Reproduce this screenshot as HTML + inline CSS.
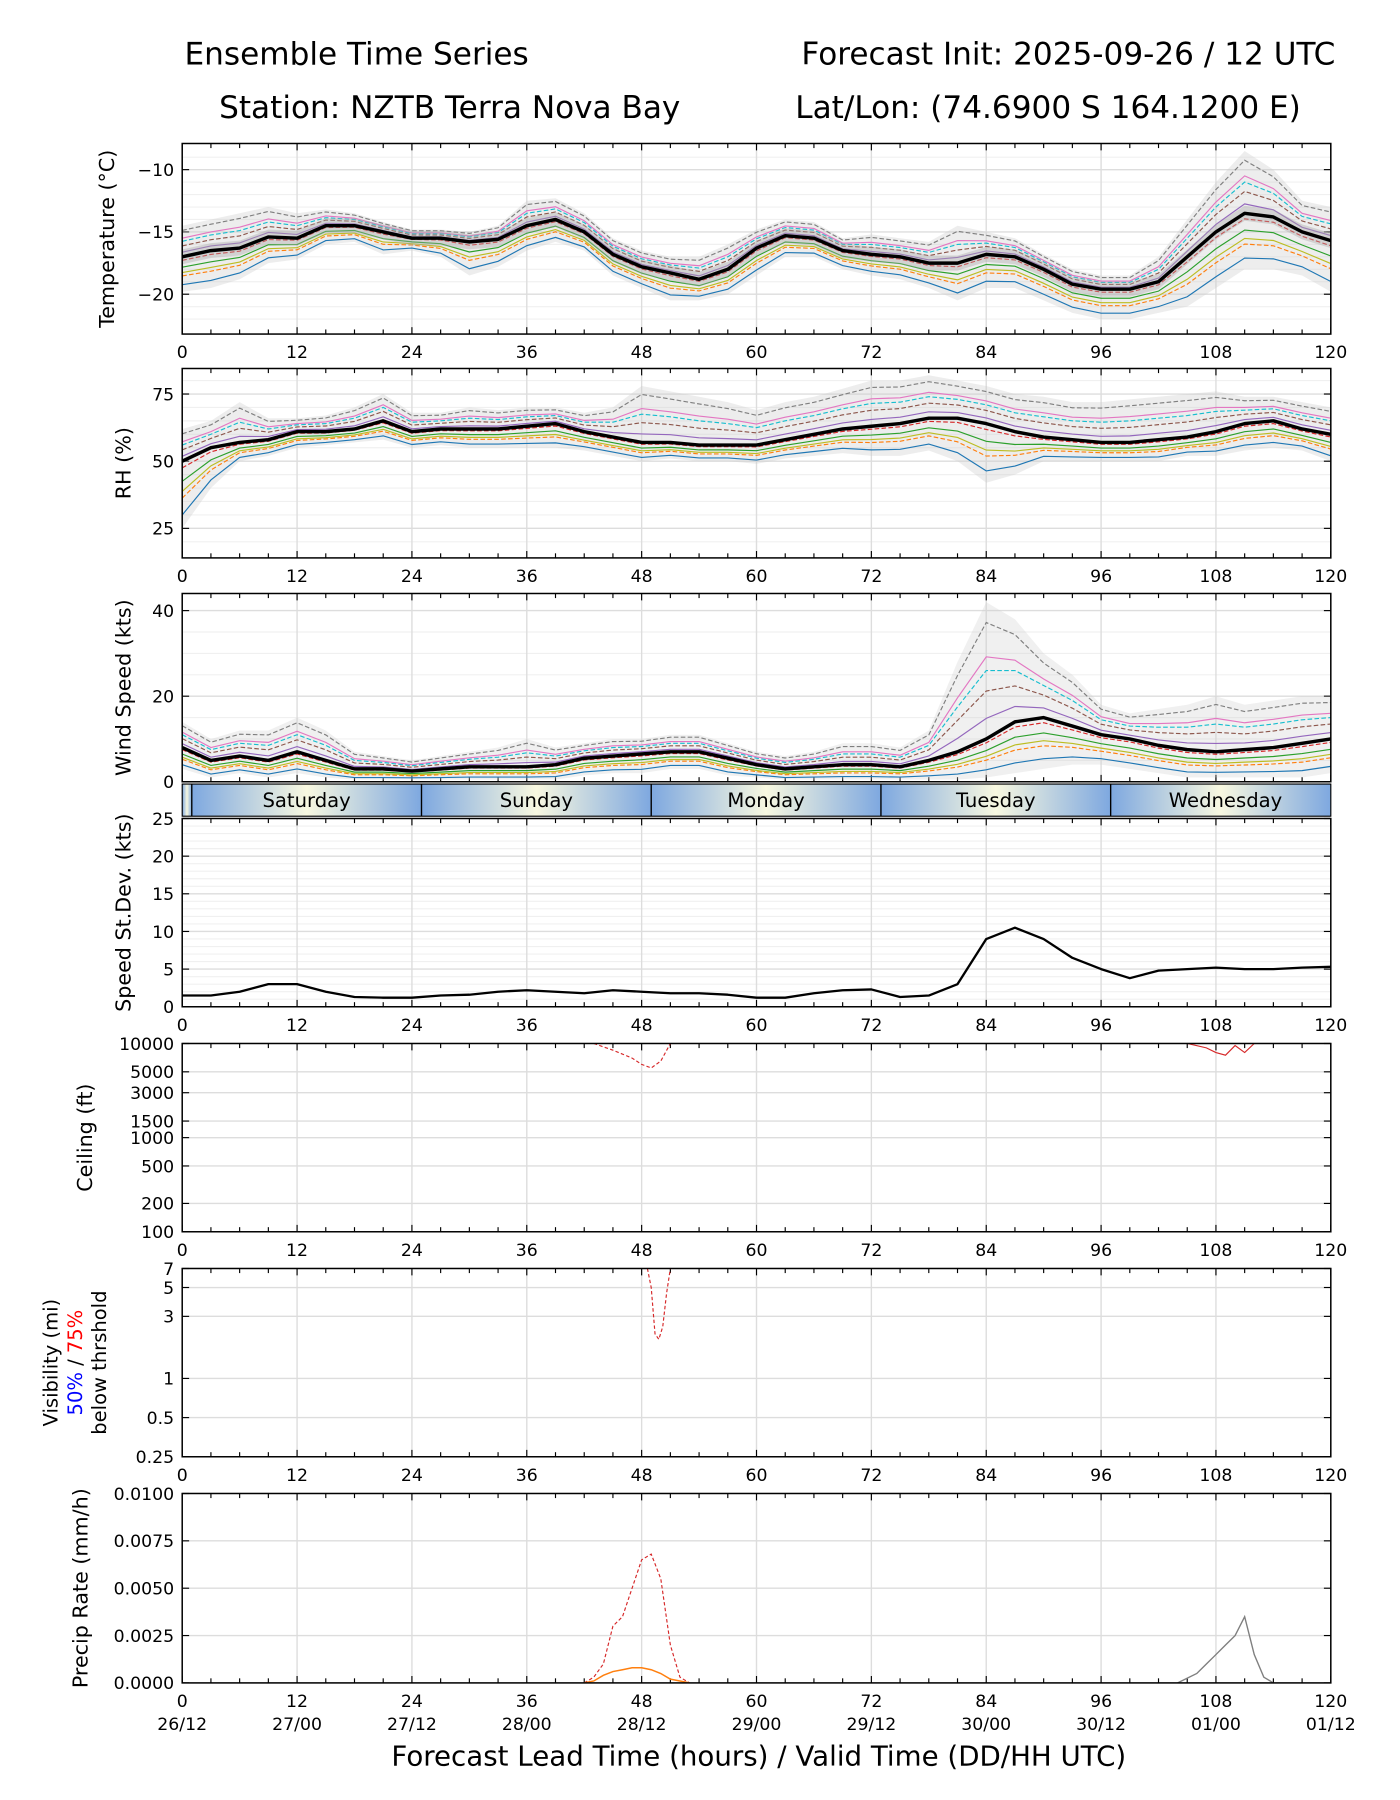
<!DOCTYPE html>
<html><head><meta charset="utf-8">
<style>
html,body{margin:0;padding:0;background:#fff;}
svg{display:block;font-family:"DejaVu Sans","Liberation Sans",sans-serif;}
</style></head>
<body>
<svg id="chart" width="1400" height="1800" viewBox="0 0 1214 1568" preserveAspectRatio="none" xmlns="http://www.w3.org/2000/svg">
<g font-size="27" fill="#000">
<text x="160" y="56">Ensemble Time Series</text>
<text x="1158" y="56" text-anchor="end">Forecast Init: 2025-09-26 / 12 UTC</text>
<text x="190" y="103">Station: NZTB Terra Nova Bay</text>
<text x="1128" y="103" text-anchor="end">Lat/Lon: (74.6900 S 164.1200 E)</text>
</g>
<defs>
<linearGradient id="dayg" x1="0" x2="1" y1="0" y2="0">
<stop offset="0" stop-color="#7ea8e0"/><stop offset="0.5" stop-color="#f8f8e0"/><stop offset="1" stop-color="#7ea8e0"/>
</linearGradient>
</defs>
<g id="root"></g>
</svg>
<script>
// ---------- data ----------
const hours3 = [0,3,6,9,12,15,18,21,24,27,30,33,36,39,42,45,48,51,54,57,60,63,66,69,72,75,78,81,84,87,90,93,96,99,102,105,108,111,114,117,120];
const tempMean = [-17,-16.5,-16.3,-15.4,-15.5,-14.5,-14.5,-15.0,-15.5,-15.5,-15.8,-15.6,-14.5,-14.0,-15.0,-16.8,-17.8,-18.3,-18.8,-18.0,-16.3,-15.3,-15.5,-16.5,-16.8,-17.0,-17.5,-17.5,-16.8,-17.0,-18.0,-19.2,-19.6,-19.6,-19.0,-17.0,-15.0,-13.5,-13.8,-15.0,-15.7];
const tempHi = [-14.5,-14,-13.5,-13,-13.5,-13.2,-13.5,-14.2,-14.8,-14.8,-15,-14.5,-12.5,-12.3,-13.5,-15.5,-16.5,-17,-17,-16,-14.8,-14,-14.2,-15.5,-15.2,-15.5,-15.8,-14.5,-15,-15.5,-16.8,-18,-18.5,-18.5,-17,-14,-11,-8.5,-10,-12.5,-13];
const tempLo = [-19.8,-19.5,-18.8,-17.5,-17.2,-16,-15.8,-16.8,-16.5,-17,-18.5,-17.8,-16.5,-15.8,-16.5,-18.5,-19.5,-20.5,-20.5,-20,-18.5,-17,-17,-18,-18.5,-18.8,-19.5,-20.5,-19.5,-19.5,-20.5,-21.5,-22,-22,-21.5,-21,-19.5,-18,-18,-18.5,-19.8];
const rhMean = [50,55,57,58,61,61,62,65,61,62,62,62,63,64,61,59,57,57,56,56,56,58,60,62,63,64,66,66,64,61,59,58,57,57,58,59,61,64,65,62,60];
const rhHi = [62,65,72,66,66,67,70,75,68,68,70,69,70,70,68,70,78,76,74,72,69,72,74,77,80,80,82,80,78,75,74,72,72,73,74,75,76,74,74,72,70];
const rhLo = [25,40,50,52,55,56,57,58,55,56,55,55,55,55,54,52,50,51,50,50,49,51,52,53,52,52,54,50,42,45,50,50,50,50,50,52,52,54,55,54,50];
const windMean = [8,5,6,5,7,5,3,3,2.5,3,3.5,3.5,3.5,4,5.5,6,6.5,7,7,5.5,4,3,3.5,4,4,3.5,5,7,10,14,15,13,11,10,8.5,7.5,7,7.5,8,9,10];
const windHi = [14,10,12,12,15,12,7,6,5,6,7,8,10,8,9,10,10,11,11,9,7,6,7,9,9,8,12,28,42,38,30,25,18,16,17,18,20,18,19,20,20];
const windLo = [3,1,2,1,2,1,0.5,0.5,0.5,0.5,0.5,0.5,0.5,0.5,1.5,2,2,3,3,1.5,1,0.5,0.5,0.5,0.5,0.5,0.5,0.5,1,2,3,4,4,3,2,1,1,1,1,1,2];
const sdev = [1.5,1.5,2,3,3,2,1.3,1.2,1.2,1.5,1.6,2,2.2,2,1.8,2.2,2,1.8,1.8,1.6,1.2,1.2,1.8,2.2,2.3,1.3,1.5,3,9,10.5,9,6.5,5,3.8,4.8,5,5.2,5,5,5.2,5.3];
const ceilHours = [43,45,47,48,49,50,51];
const ceilVals = [10000,8500,7000,6000,5500,6500,10000];
const ceilHours2 = [105,107,108,109,110,111,112];
const ceilVals2 = [10000,9000,8000,7500,9500,8000,10000];
const visHours = [48.6,49,49.4,49.8,50.2,50.6,51];
const visVals = [7,5,2.2,2,2.5,4.5,7];
const precipHours = [42,43,44,45,46,47,48,49,50,51,52,53];
const precipRed = [0,0.0003,0.001,0.003,0.0035,0.005,0.0065,0.0068,0.0055,0.002,0.0003,0];
const precipOrange = [0,0.0001,0.0004,0.0006,0.0007,0.0008,0.0008,0.0007,0.0005,0.0002,0.0001,0];
const precipHours2 = [104,106,107,108,109,110,111,112,113,114];
const precipGray = [0,0.0005,0.001,0.0015,0.002,0.0025,0.0035,0.0015,0.0003,0];
const dayNames = ["Saturday","Sunday","Monday","Tuesday","Wednesday"];
const xTicks = [0,12,24,36,48,60,72,84,96,108,120];
const dateLabels = ["26/12","27/00","27/12","28/00","28/12","29/00","29/12","30/00","30/12","01/00","01/12"];

// ---------- drawing ----------
const NS = "http://www.w3.org/2000/svg";
const root = document.getElementById("root");
const L = 158, R = 1154;
const colors = ["#1f77b4","#ff7f0e","#2ca02c","#d62728","#9467bd","#8c564b","#e377c2","#7f7f7f","#bcbd22","#17becf"];
function el(tag, attrs, parent){const e=document.createElementNS(NS,tag);for(const k in attrs)e.setAttribute(k,attrs[k]);(parent||root).appendChild(e);return e;}
function xs(h){return L + (h/120)*(R-L);}
function linY(v0,v1,top,bot){return v=>bot-(v-v0)/(v1-v0)*(bot-top);}
function logY(v0,v1,top,bot){return v=>bot-(Math.log(v)-Math.log(v0))/(Math.log(v1)-Math.log(v0))*(bot-top);}
function pathOf(hs,vals,ys){return hs.map((h,i)=>(i?"L":"M")+xs(h).toFixed(1)+","+ys(vals[i]).toFixed(1)).join(" ");}

function panel(name, top, bot, ys, yticks, ylabels, minorY, title, showX, tx){
  const g = el("g",{});
  
  
  minorY.forEach(v=>el("line",{x1:L,x2:R,y1:ys(v),y2:ys(v),stroke:"#f0f0f0","stroke-width":1},g));
  yticks.forEach(v=>el("line",{x1:L,x2:R,y1:ys(v),y2:ys(v),stroke:"#dddddd","stroke-width":1.2},g));
  xTicks.forEach(h=>el("line",{x1:xs(h),x2:xs(h),y1:top,y2:bot,stroke:"#dddddd","stroke-width":1.2},g));
  for(let h=0;h<=120;h+=3){const maj=h%12===0;el("line",{x1:xs(h),x2:xs(h),y1:bot,y2:bot-(maj?6:4),stroke:"#000","stroke-width":1},g);el("line",{x1:xs(h),x2:xs(h),y1:top,y2:top+(maj?6:4),stroke:"#000","stroke-width":1},g);}
  yticks.forEach((v,i)=>{el("line",{x1:L,x2:L+6,y1:ys(v),y2:ys(v),stroke:"#000"},g);el("line",{x1:R,x2:R-6,y1:ys(v),y2:ys(v),stroke:"#000"},g);
    const t=el("text",{x:L-7,y:ys(v)+5.5,"text-anchor":"end","font-size":"15"},g);t.textContent=ylabels[i];});
  if(showX){xTicks.forEach(h=>{const t=el("text",{x:xs(h),y:bot+21,"text-anchor":"middle","font-size":"15"},g);t.textContent=h;});}
  if(title){const ty=(top+bot)/2;const t=el("text",{x:tx,y:ty,"text-anchor":"middle","font-size":"18",transform:`rotate(-90 ${tx} ${ty})`},g);t.textContent=title;}
  const plot=el("g",{},g);
  el("rect",{x:L,y:top,width:R-L,height:bot-top,fill:"none",stroke:"#000","stroke-width":1.3},g);
  return plot;
}
function band(plot,name,lo,hi,ys,fill,op){
  const d=pathOf(hours3,hi,ys)+" "+hours3.slice().reverse().map((h,i)=>"L"+xs(h).toFixed(1)+","+ys(lo[hours3.length-1-i]).toFixed(1)).join(" ")+"Z";
  const p=el("path",{d:d,fill:fill,opacity:op},plot);
  
  
}
function members(plot,name,mean,lo,hi,ys){
  const fr=[-0.8,-0.55,-0.3,-0.1,0.15,0.35,0.6,0.85,-0.45,0.5];
  fr.forEach((f,k)=>{
    const vals=mean.map((m,i)=>f<0?m+f*(m-lo[i]):m+f*(hi[i]-m));
    const p=el("path",{d:pathOf(hours3,vals,ys),fill:"none",stroke:colors[k],"stroke-width":1,"stroke-dasharray":k%2?"4,2":"none"},plot);
    
    
  });
}
function meanLine(plot,name,vals,ys,w){
  const p=el("path",{d:pathOf(hours3,vals,ys),fill:"none",stroke:"#000","stroke-width":w,"stroke-linejoin":"round"},plot);
  
  
}

// Temperature
let ys=linY(-23.2,-7.9,125,291);
let p=panel("temperature",125,291,ys,[-10,-15,-20],["−10","−15","−20"],[-9,-11,-12,-13,-14,-16,-17,-18,-19,-21,-22],"Temperature (°C)",true,99);
band(p,"temperature-spread",tempLo,tempHi,ys,"#cccccc",0.35);
members(p,"temperature",tempMean,tempLo,tempHi,ys);
band(p,"temperature-iqr",tempMean.map(v=>v-0.6),tempMean.map(v=>v+0.6),ys,"#aaaaaa",0.4);
meanLine(p,"temperature-mean",tempMean,ys,3);

// RH
ys=linY(14,84.5,321,486);
p=panel("rh",321,486,ys,[25,50,75],["25","50","75"],[20,30,35,40,45,55,60,65,70,80],"RH (%)",true,113);
band(p,"rh-spread",rhLo,rhHi,ys,"#cccccc",0.35);
members(p,"rh",rhMean,rhLo,rhHi,ys);
meanLine(p,"rh-mean",rhMean,ys,3);

// Wind
ys=linY(0,44,517,681);
p=panel("wind",517,681,ys,[0,20,40],["0","20","40"],[5,10,15,25,30,35],"Wind Speed (kts)",false,113);
band(p,"wind-spread",windLo,windHi,ys,"#cccccc",0.3);
members(p,"wind",windMean,windLo,windHi,ys);
meanLine(p,"wind-mean",windMean,ys,3);

// Day band
const db=el("g",{});


const bounds=[0,1,25,49,73,97,120];
for(let i=0;i<bounds.length-1;i++){
  const r=el("rect",{x:xs(bounds[i]),y:683,width:xs(bounds[i+1])-xs(bounds[i]),height:28,fill:"url(#dayg)"},db);
  
  
}
[1,25,49,73,97].forEach(h=>el("line",{x1:xs(h),x2:xs(h),y1:683,y2:711,stroke:"#000","stroke-width":1.2},db));
dayNames.forEach((d,i)=>{const t=el("text",{x:xs(13+24*i),y:703,"text-anchor":"middle","font-size":"17"},db);t.textContent=d;});
el("rect",{x:L,y:683,width:R-L,height:28,fill:"none",stroke:"#000","stroke-width":1},db);

// Std dev
ys=linY(0,25,713,877);
p=panel("stddev",713,877,ys,[0,5,10,15,20,25],["0","5","10","15","20","25"],[1,2,3,4,6,7,8,9,11,12,13,14,16,17,18,19,21,22,23,24],"Speed St.Dev. (kts)",true,113);
meanLine(p,"stddev-line",sdev,ys,2);

// Ceiling
ys=logY(100,10000,909,1073);
p=panel("ceiling",909,1073,ys,[100,200,500,1000,1500,3000,5000,10000],["100","200","500","1000","1500","3000","5000","10000"],[],"Ceiling (ft)",true,80);
let q=el("path",{d:pathOf(ceilHours,ceilVals,ys),fill:"none",stroke:"#d62728","stroke-width":1,"stroke-dasharray":"3,2"},p);

q=el("path",{d:pathOf(ceilHours2,ceilVals2,ys),fill:"none",stroke:"#d62728","stroke-width":1},p);


// Visibility
ys=logY(0.25,7,1105,1269);
p=panel("visibility",1105,1269,ys,[0.25,0.5,1,3,5,7],["0.25","0.5","1","3","5","7"],[],null,true,0);
q=el("path",{d:pathOf(visHours,visVals,ys),fill:"none",stroke:"#d62728","stroke-width":1,"stroke-dasharray":"3,2"},p);

const vt=el("text",{"font-size":"17",transform:"rotate(-90 0 0)"});

vt.innerHTML='<tspan x="-1187" y="50" text-anchor="middle">Visibility (mi)</tspan><tspan x="-1187" y="71" text-anchor="middle"><tspan fill="#0000ff">50%</tspan> / <tspan fill="#ff0000">75%</tspan></tspan><tspan x="-1187" y="92" text-anchor="middle">below thrshold</tspan>';

// Precip
ys=linY(0,0.01,1301,1466);
p=panel("precip",1301,1466,ys,[0,0.0025,0.005,0.0075,0.01],["0.0000","0.0025","0.0050","0.0075","0.0100"],[],"Precip Rate (mm/h)",true,76);
q=el("path",{d:pathOf(precipHours,precipRed,ys),fill:"none",stroke:"#d62728","stroke-width":1,"stroke-dasharray":"3,2"},p);

q=el("path",{d:pathOf(precipHours,precipOrange,ys),fill:"none",stroke:"#ff7f0e","stroke-width":1.3},p);

q=el("path",{d:pathOf(precipHours2,precipGray,ys),fill:"none",stroke:"#7f7f7f","stroke-width":1.2},p);

xTicks.forEach((h,i)=>{const t=el("text",{x:xs(h),y:1507,"text-anchor":"middle","font-size":"15"});t.textContent=dateLabels[i];});
const xl=el("text",{x:658,y:1538,"text-anchor":"middle","font-size":"24"});
xl.textContent="Forecast Lead Time (hours) / Valid Time (DD/HH UTC)";


</script>
</body></html>
